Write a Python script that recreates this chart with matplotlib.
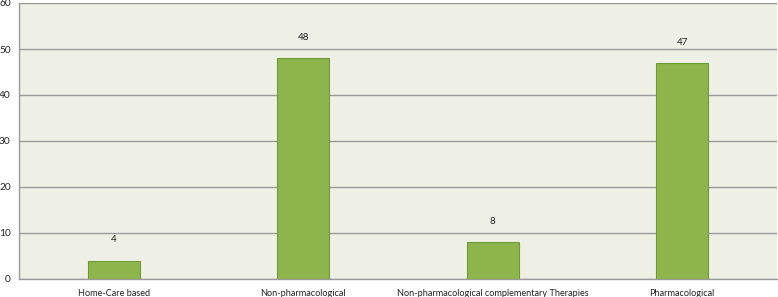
import matplotlib
matplotlib.use("Agg")
import matplotlib.pyplot as plt

# Chart data
CATEGORIES = ["Home-Care based", "Non-pharmacological",
              "Non-pharmacological complementary Therapies", "Pharmacological"]
VALUES = [4, 48, 8, 47]
Y_TICKS = [0, 10, 20, 30, 40, 50, 60]

plt.rcParams["font.family"] = ["Lato", "DejaVu Sans"]

W, H = 778, 297
fig = plt.figure(figsize=(W / 100, H / 100), dpi=100)
fig.patch.set_facecolor("white")
ax = fig.add_axes([19 / W, 18 / H, 758 / W, 276 / H])
ax.set_facecolor("#eef0e6")

x = range(len(CATEGORIES))
bars = ax.bar(x, VALUES, width=0.275, color="#8db54b", edgecolor="#6f9a35",
              linewidth=0.8, zorder=3)
for rect, v in zip(bars, VALUES):
    ax.text(rect.get_x() + rect.get_width() / 2, v + 4.5, str(v),
            ha="center", va="center", fontsize=7, color="#222222")

ax.set_xlim(-0.5, len(CATEGORIES) - 0.5)
ax.set_ylim(0, 60)
ax.set_yticks(Y_TICKS)
ax.set_xticks(list(x))
ax.set_xticklabels(CATEGORIES, fontsize=6.6)
ax.grid(axis="y", color="#9a9a9a", linewidth=1.0, zorder=1)
ax.tick_params(axis="both", length=0, colors="#222222")
ax.tick_params(axis="y", pad=6, labelsize=7.3)
ax.tick_params(axis="x", pad=7)

for side in ["top", "right"]:
    ax.spines[side].set_visible(False)
for side in ["left", "bottom"]:
    ax.spines[side].set_color("#9a9a9a")
    ax.spines[side].set_linewidth(1.0)

fig.savefig("out.png", dpi=100)
